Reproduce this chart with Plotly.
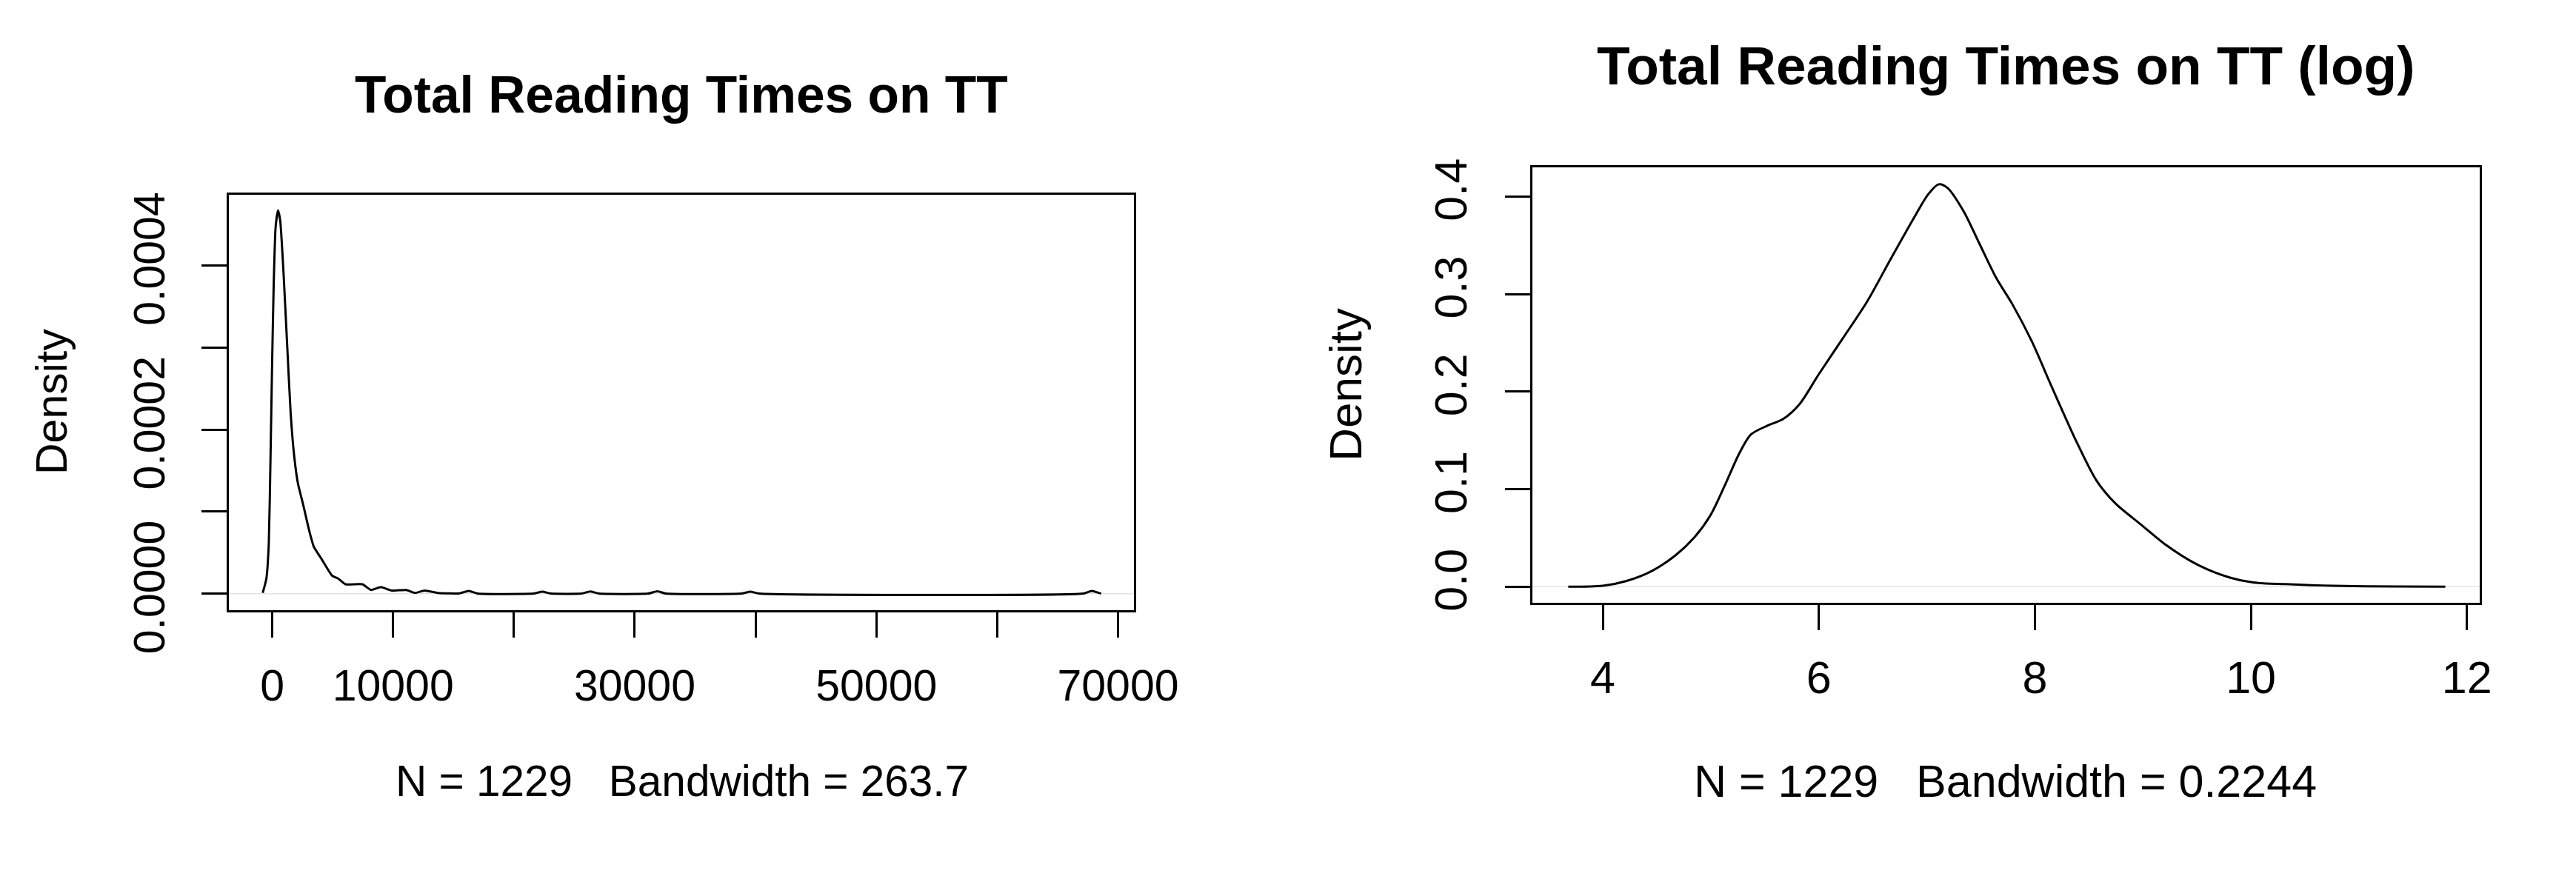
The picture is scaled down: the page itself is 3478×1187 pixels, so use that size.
import plotly.graph_objects as go

W, H = 3478, 1187

# ---------- data ----------
raw_x = [-785, -483, -284, -141, -20, 121, 282, 483, 665, 925, 1227, 1529, 1831, 2133,
         2538, 3039, 3444, 4048, 4955, 5458, 6062, 7472, 8178, 8983, 9890, 11098, 11803,
         12608, 13716, 15500, 16265, 17000, 21600, 22349, 23100, 25600, 26325, 27050,
         31100, 31867, 32600, 38800, 39578, 40300, 67100, 67831, 68600]
raw_y = [0.000001, 0.0000186, 0.0000607, 0.000166, 0.000271, 0.000376, 0.000447,
         0.000467, 0.000454, 0.000394, 0.000306, 0.000219, 0.000166, 0.000134, 0.000110,
         0.0000782, 0.0000572, 0.0000432, 0.0000221, 0.0000186, 0.0000116, 0.0000116,
         0.0000046, 0.0000081, 0.0000039, 0.0000046, 0.000001, 0.0000039, 0.000001,
         0.0000005, 0.0000035, 0.0000003, 0.0000002, 0.0000025, 0.0000002, 0.0000002,
         0.0000028, 0.0000002, 0.0000002, 0.000003, 0.0000002, 0.0000002, 0.0000025,
         0.0000002, 0.0000002, 0.0000035, 0.0000001]

log_x = [3.68, 4.0, 4.22, 4.45, 4.67, 4.85, 5.0, 5.15, 5.26, 5.37, 5.52, 5.67, 5.82, 6.0,
         6.23, 6.45, 6.67, 6.90, 7.01, 7.11, 7.19, 7.34, 7.49, 7.64, 7.79, 7.97, 8.16,
         8.38, 8.57, 8.75, 8.98, 9.20, 9.50, 9.80, 10.02, 10.32, 10.76, 11.36, 11.80]
log_y = [0.0, 0.001, 0.006, 0.016, 0.032, 0.051, 0.074, 0.109, 0.136, 0.156, 0.165, 0.172,
         0.187, 0.218, 0.256, 0.293, 0.337, 0.382, 0.402, 0.4126, 0.409, 0.385, 0.351,
         0.317, 0.290, 0.252, 0.204, 0.150, 0.109, 0.085, 0.064, 0.044, 0.023, 0.0096,
         0.0044, 0.0027, 0.0010, 0.0003, 0.0]

raw_xticks = [0, 10000, 20000, 30000, 40000, 50000, 60000, 70000]
raw_xticktext = ["0", "10000", "", "30000", "", "50000", "", "70000"]
raw_yticks = [0, 0.0001, 0.0002, 0.0003, 0.0004]
raw_yticktext = ["0.0000", "", "0.0002", "", "0.0004"]
log_xticks = [4, 6, 8, 10, 12]
log_yticks = [0.0, 0.1, 0.2, 0.3, 0.4]
log_yticktext = ["0.0", "0.1", "0.2", "0.3", "0.4"]

titles = ["Total Reading Times on TT", "Total Reading Times on TT (log)"]
subtitles = ["N = 1229\u00a0\u00a0\u00a0Bandwidth = 263.7", "N = 1229\u00a0\u00a0\u00a0Bandwidth = 0.2244"]

FONT = "Liberation Sans, Arial, Helvetica, sans-serif"

# ---------- figure ----------
fig = go.Figure()
fig.add_trace(go.Scatter(x=raw_x, y=raw_y, mode="lines", xaxis="x", yaxis="y",
                         line=dict(color="black", width=3, shape="spline", smoothing=0.5),
                         showlegend=False, hoverinfo="skip"))
fig.add_trace(go.Scatter(x=log_x, y=log_y, mode="lines", xaxis="x2", yaxis="y2",
                         line=dict(color="black", width=3, shape="spline", smoothing=0.8),
                         showlegend=False, hoverinfo="skip"))

def px_dom_x(a, b):
    return [a / W, b / W]

def px_dom_y(top, bottom):
    return [1 - bottom / H, 1 - top / H]

def axis_style(fs):
    return dict(showline=True, mirror=True, linecolor="black", linewidth=3,
                ticks="outside", ticklen=34, tickwidth=3, tickcolor="black",
                showgrid=False, zeroline=False,
                tickfont=dict(family=FONT, size=fs, color="black"))

fig.update_layout(
    width=W, height=H,
    margin=dict(l=0, r=0, t=0, b=0),
    paper_bgcolor="white", plot_bgcolor="white",
    xaxis=dict(domain=px_dom_x(314, 1558), range=[-3614, 71325], anchor="y",
               tickmode="array", tickvals=raw_xticks, ticktext=raw_xticktext,
               tickangle=0, ticklabelstandoff=14, **axis_style(59)),
    yaxis=dict(domain=px_dom_y(267, 864), range=[-0.0000203, 0.000486], anchor="x",
               tickmode="array", tickvals=raw_yticks, ticktext=raw_yticktext,
               tickangle=-90, ticklabelstandoff=26, **axis_style(59)),
    xaxis2=dict(domain=px_dom_x(2105, 3407), range=[3.346, 12.12], anchor="y2",
                tickmode="array", tickvals=log_xticks,
                ticktext=[str(v) for v in log_xticks],
                tickangle=0, ticklabelstandoff=12, **axis_style(61)),
    yaxis2=dict(domain=px_dom_y(228, 853), range=[-0.0164, 0.4297], anchor="x2",
                tickmode="array", tickvals=log_yticks, ticktext=log_yticktext,
                tickangle=-90, ticklabelstandoff=27, **axis_style(61)),
)

# faint zero lines (as drawn by R's plot.density)
for xr, yr in (("x domain", "y"), ("x2 domain", "y2")):
    fig.add_shape(type="line", xref=xr, yref=yr, x0=0, x1=1, y0=0, y1=0,
                  line=dict(color="#e4e4e4", width=1.5), layer="below")

def ann(text, x, y, size, bold=False, angle=0):
    fig.add_annotation(text=f"<b>{text}</b>" if bold else text,
                       x=x / W, y=1 - y / H, xref="paper", yref="paper",
                       xanchor="center", yanchor="middle", showarrow=False,
                       textangle=angle,
                       font=dict(family=FONT, size=size, color="black"))

ann(titles[0], 936, 123, 69.5, bold=True)
ann(titles[1], 2756, 81, 73, bold=True)
ann(subtitles[0], 937, 1109, 58.5)
ann(subtitles[1], 2755, 1109, 61)
ann("Density", 71, 564, 59, angle=-90)
ann("Density", 1849, 540, 62, angle=-90)

fig.write_html("out.html", config={"displayModeBar": False},
               post_script="document.body.style.margin='0';")
